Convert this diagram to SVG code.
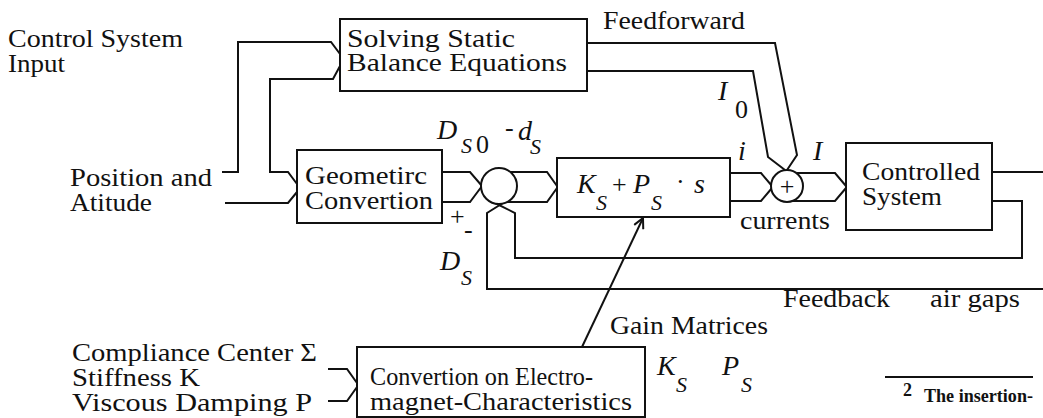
<svg xmlns="http://www.w3.org/2000/svg" width="1043" height="418" viewBox="0 0 1043 418">
<defs>
<style>
.t{font-family:'Liberation Serif','DejaVu Serif',serif;font-size:26px;fill:#111}
.m{font-family:'Liberation Serif','DejaVu Serif',serif;font-style:italic;font-size:28px;fill:#111}
.sub{font-family:'Liberation Serif','DejaVu Serif',serif;font-style:italic;font-size:22px;fill:#111}
.box{fill:#fff;stroke:#111;stroke-width:2}
.ln{fill:none;stroke:#111;stroke-width:2;stroke-linejoin:miter}
.fn{font-family:'Liberation Serif','DejaVu Serif',serif;font-size:18px;font-weight:bold;fill:#111}
</style>
<marker id="open" viewBox="0 0 12 12" refX="11" refY="6" markerWidth="12" markerHeight="12" markerUnits="userSpaceOnUse" orient="auto">
<path d="M1,1 L11,6 L1,11" fill="none" stroke="#111" stroke-width="2"/>
</marker>
</defs>
<rect width="1043" height="418" fill="#fff"/>

<g id="connectors">
<path class="ln" d="M222,172 H238 V42 H331 L340,54"/>
<path class="ln" d="M340,66 L333,79 H270 V172 H288 L297,184"/>
<path class="ln" d="M225,203 H288 L297,192"/>
<path class="ln" d="M442,172 H470 L482,186"/>
<path class="ln" d="M442,202 H470 L482,186"/>
<path class="ln" d="M510,172 H547 L557,186"/>
<path class="ln" d="M507,202 H547 L557,188"/>
<path class="ln" d="M730,173 H761 L772,186"/>
<path class="ln" d="M730,201 H761 L772,188"/>
<path class="ln" d="M797,173 H835 L846,186"/>
<path class="ln" d="M793,201 H835 L846,188"/>
<path class="ln" d="M587,43 H775 L797,155 L787,170"/>
<path class="ln" d="M587,71 H753 L768,157 L785,170"/>
<path class="ln" d="M992,172 H1043"/>
<path class="ln" d="M992,201 H1022 V258 H515 V213 L495,203"/>
<path class="ln" d="M1043,289 H487 V213 L503,203"/>
<path class="ln" d="M582,347 L643,218" marker-end="url(#open)"/>
<path class="ln" d="M328,369 H347 L357,383"/>
<path class="ln" d="M328,401 H347 L357,387"/>
<path class="ln" d="M885,377 H1033"/>
</g>

<g id="input-labels">
<text class="t" x="8" y="47" textLength="175" lengthAdjust="spacingAndGlyphs">Control System</text>
<text class="t" x="8" y="72" textLength="57" lengthAdjust="spacingAndGlyphs">Input</text>
<text class="t" x="70" y="186" textLength="142" lengthAdjust="spacingAndGlyphs">Position and</text>
<text class="t" x="70" y="211" textLength="82" lengthAdjust="spacingAndGlyphs">Atitude</text>
<text class="t" x="72" y="361" textLength="245" lengthAdjust="spacingAndGlyphs">Compliance Center Σ</text>
<text class="t" x="72" y="386" textLength="128" lengthAdjust="spacingAndGlyphs">Stiffness K</text>
<text class="t" x="72" y="411" textLength="240" lengthAdjust="spacingAndGlyphs">Viscous Damping P</text>
</g>

<g id="solving">
<rect class="box" x="340" y="19" width="247" height="72"/>
<text class="t" x="347" y="47" textLength="168" lengthAdjust="spacingAndGlyphs">Solving Static</text>
<text class="t" x="347" y="71" textLength="220" lengthAdjust="spacingAndGlyphs">Balance Equations</text>
</g>

<g id="geometric">
<rect class="box" x="297" y="150" width="145" height="73"/>
<text class="t" x="305" y="184" textLength="122" lengthAdjust="spacingAndGlyphs">Geometirc</text>
<text class="t" x="305" y="209" textLength="128" lengthAdjust="spacingAndGlyphs">Convertion</text>
</g>

<g id="sum1">
<circle class="box" cx="499" cy="186" r="18"/>
<text class="t" x="450" y="225">+</text>
<text class="t" x="464" y="238">-</text>
</g>

<g id="gain">
<rect class="box" x="557" y="158" width="173" height="59"/>
<text class="m" x="577" y="193">K</text>
<text class="sub" x="596" y="210">S</text>
<text class="t" x="612" y="193">+</text>
<text class="m" x="633" y="193">P</text>
<text class="sub" x="651" y="210">S</text>
<text class="t" x="676" y="190">·</text>
<text class="m" x="694" y="193">s</text>
</g>

<g id="sum2">
<circle class="box" cx="787" cy="186" r="16"/>
<text class="t" x="787" y="195" text-anchor="middle" font-size="22">+</text>
</g>

<g id="controlled">
<rect class="box" x="846" y="143" width="146" height="87"/>
<text class="t" x="862" y="180" textLength="118" lengthAdjust="spacingAndGlyphs">Controlled</text>
<text class="t" x="862" y="205" textLength="80" lengthAdjust="spacingAndGlyphs">System</text>
</g>

<g id="convertion">
<rect class="box" x="357" y="347" width="288" height="70"/>
<text class="t" x="370" y="385" textLength="223" lengthAdjust="spacingAndGlyphs">Convertion on Electro-</text>
<text class="t" x="370" y="410" textLength="262" lengthAdjust="spacingAndGlyphs">magnet-Characteristics</text>
</g>

<g id="signal-labels">
<text class="t" x="603" y="29" textLength="142" lengthAdjust="spacingAndGlyphs">Feedforward</text>
<text class="m" x="718" y="100">I</text>
<text class="t" x="735" y="118" font-size="22">0</text>
<text class="m" x="738" y="160">i</text>
<text class="m" x="813" y="160">I</text>
<text class="t" x="740" y="229" textLength="90" lengthAdjust="spacingAndGlyphs">currents</text>
<text class="m" x="437" y="139">D</text>
<text class="sub" x="461" y="153">S</text>
<text class="t" x="476" y="153" font-size="22">0</text>
<text class="t" x="505" y="136">-</text>
<text class="m" x="518" y="140">d</text>
<text class="sub" x="530" y="154">S</text>
<text class="m" x="440" y="270">D</text>
<text class="sub" x="461" y="285">S</text>
<text class="t" x="783" y="307" textLength="107" lengthAdjust="spacingAndGlyphs">Feedback</text>
<text class="t" x="930" y="307" textLength="90" lengthAdjust="spacingAndGlyphs">air gaps</text>
<text class="t" x="610" y="334" textLength="158" lengthAdjust="spacingAndGlyphs">Gain Matrices</text>
<text class="m" x="657" y="375">K</text>
<text class="sub" x="676" y="392">S</text>
<text class="m" x="722" y="375">P</text>
<text class="sub" x="741" y="392">S</text>
</g>

<g id="footnote">
<text class="fn" x="903" y="396" font-size="13">2</text>
<text class="fn" x="924" y="402" textLength="109" lengthAdjust="spacingAndGlyphs">The insertion-</text>
</g>
</svg>
